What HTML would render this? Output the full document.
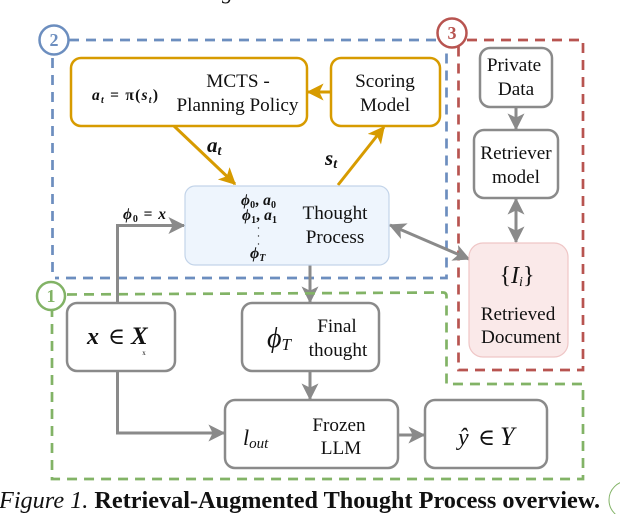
<!DOCTYPE html>
<html>
<head>
<meta charset="utf-8">
<style>
html,body{margin:0;padding:0;background:#fff;width:620px;height:514px;overflow:hidden}
svg{display:block}
text{font-family:"Liberation Serif","DejaVu Serif",serif;fill:#111}
.t{font-size:19.2px;text-anchor:middle}
.m{font-style:italic}
.b{font-weight:bold;font-style:italic}
</style>
</head>
<body>
<svg width="620" height="514" viewBox="0 0 620 514" xmlns="http://www.w3.org/2000/svg">
<defs>
<marker id="g" viewBox="0 0 12 12" refX="11" refY="6" markerUnits="userSpaceOnUse" markerWidth="17" markerHeight="17" orient="auto-start-reverse"><path d="M0 0 L12 6 L0 12 L3 6 Z" fill="#8a8a8a"/></marker>
<marker id="o" viewBox="0 0 12 12" refX="11" refY="6" markerUnits="userSpaceOnUse" markerWidth="17" markerHeight="17" orient="auto"><path d="M0 0 L12 6 L0 12 L3 6 Z" fill="#d79b00"/></marker>
</defs>

<!-- clipped line above -->
<text x="222" y="-1" font-size="22" font-style="italic">g</text>
<text x="0" y="-2" font-size="22" fill="#777">the action model and on thin with lines to both none at all inner</text>

<!-- dashed regions -->
<g fill="none" stroke-width="2.700" stroke-dasharray="10 7">
<path d="M69 40 H446.5 V278 H55" stroke="#6c8ebf"/>
<path d="M52.500 58 V278" stroke="#6c8ebf"/>
<path d="M467 40 H583 V370 H458.500 V46" stroke="#b85450"/>
<path d="M67 294.500 L443 292.500 Q446.500 292.500 446.500 296 V384 H583 V479 H52 V311" stroke="#82b366"/>
</g>

<!-- gray connectors behind boxes -->
<g fill="none" stroke="#8a8a8a" stroke-width="3">
<path d="M117.500 303 V225.500 H184" marker-end="url(#g)"/>
<path d="M117.500 371 V433 H224" marker-end="url(#g)"/>
<path d="M310 265 V302" marker-end="url(#g)"/>
<path d="M310 371 V399" marker-end="url(#g)"/>
<path d="M398 435 H424" marker-end="url(#g)"/>
<path d="M516 107 V129" marker-end="url(#g)"/>
<path d="M516 199 V242" marker-start="url(#g)" marker-end="url(#g)"/>
<path d="M390 225 L469 259" marker-start="url(#g)" marker-end="url(#g)"/>
</g>
<path d="M305 293.300 H315" stroke="#82b366" stroke-width="2.700"/>

<!-- orange connectors -->
<g fill="none" stroke="#d79b00" stroke-width="3">
<path d="M331 92 H308" marker-end="url(#o)"/>
<path d="M174 126 L235 184" marker-end="url(#o)"/>
<path d="M338 185 L384 127" marker-end="url(#o)"/>
</g>

<!-- boxes -->
<g fill="#fff" stroke="#d79b00" stroke-width="2.500">
<rect x="71" y="58" width="236" height="68" rx="10"/>
<rect x="331" y="58" width="109" height="68" rx="10"/>
</g>
<g fill="#fff" stroke="#8a8a8a" stroke-width="2.500">
<rect x="480" y="48" width="72" height="59" rx="10"/>
<rect x="474" y="130" width="84" height="68" rx="10"/>
<rect x="67" y="303" width="108" height="68" rx="10"/>
<rect x="242" y="303" width="137" height="68" rx="10"/>
<rect x="225" y="400" width="173" height="68" rx="10"/>
<rect x="425" y="400" width="122" height="68" rx="10"/>
</g>
<rect x="185" y="186" width="204" height="79" rx="10" fill="#eef5fd" stroke="#c3d4e9" stroke-width="1.200"/>
<rect x="469" y="243" width="99" height="114" rx="14" fill="#fae9e9" stroke="#efc6c6" stroke-width="1.200"/>

<!-- circles -->
<g fill="#fff" stroke-width="2.500">
<circle cx="54" cy="40" r="14.500" stroke="#6c8ebf"/>
<circle cx="452" cy="33" r="14.500" stroke="#b85450"/>
<circle cx="51" cy="296" r="14" stroke="#82b366"/>
</g>
<g font-size="18" font-weight="bold" text-anchor="middle">
<text x="54" y="46" style="fill:#6c8ebf">2</text>
<text x="452" y="39" style="fill:#b85450">3</text>
<text x="51" y="302" style="fill:#82b366">1</text>
</g>

<!-- labels -->
<text class="t" x="238" y="87">MCTS -</text>
<text class="t" x="237.500" y="111">Planning Policy</text>
<text class="m" x="92" y="100" font-size="15.500" font-weight="bold" textLength="66">a<tspan font-size="10" dy="3">t</tspan><tspan dy="-3" font-style="normal"> = π(</tspan>s<tspan font-size="10" dy="3">t</tspan><tspan dy="-3" font-style="normal">)</tspan></text>
<text class="t" x="385" y="87">Scoring</text>
<text class="t" x="385" y="111">Model</text>
<text class="b" x="207" y="152" font-size="21">a<tspan font-size="14" dy="3">t</tspan></text>
<text class="b" x="325" y="165" font-size="21">s<tspan font-size="14" dy="3">t</tspan></text>

<text class="m" x="123" y="219" font-size="15.500" font-weight="bold" textLength="43">ϕ<tspan font-size="10" dy="3" font-style="normal">0</tspan><tspan dy="-3" font-style="normal"> = </tspan>x</text>

<text class="m" x="241" y="205" font-size="15.500" font-weight="bold" textLength="35">ϕ<tspan font-size="10" dy="3" font-style="normal">0</tspan><tspan dy="-3" font-style="normal">, </tspan>a<tspan font-size="10" dy="3" font-style="normal">0</tspan></text>
<text class="m" x="242" y="220" font-size="15.500" font-weight="bold" textLength="35">ϕ<tspan font-size="10" dy="3" font-style="normal">1</tspan><tspan dy="-3" font-style="normal">, </tspan>a<tspan font-size="10" dy="3" font-style="normal">1</tspan></text>
<circle cx="258.500" cy="228" r=".7" fill="#333"/><circle cx="258.500" cy="236" r=".7" fill="#333"/><circle cx="258.500" cy="244" r=".7" fill="#333"/>
<text class="m" x="250" y="258" font-size="16" font-weight="bold">ϕ<tspan font-size="10" dy="3">T</tspan></text>
<text class="t" x="335" y="219">Thought</text>
<text class="t" x="335" y="243">Process</text>

<text class="t" x="514" y="71">Private</text>
<text class="t" x="516" y="95">Data</text>
<text class="t" x="516" y="159">Retriever</text>
<text class="t" x="516" y="183">model</text>
<text x="517" y="283" font-size="24" text-anchor="middle">{<tspan font-style="italic">I</tspan><tspan font-style="italic" font-size="14" dy="3">i</tspan><tspan dy="-3">}</tspan></text>
<text class="t" x="518" y="320">Retrieved</text>
<text class="t" x="521" y="343">Document</text>

<text x="87" y="344" font-size="24" font-weight="bold" font-style="italic">x</text>
<text x="108" y="344" font-size="23">∈</text>
<text x="131" y="344" font-size="25" font-weight="bold" font-style="italic">X</text>
<text x="144" y="355" font-size="7" text-anchor="middle">x</text>

<text class="m" x="267" y="347" font-size="28">ϕ<tspan font-size="17" dy="3">T</tspan></text>
<text class="t" x="337" y="332">Final</text>
<text class="t" x="338" y="356">thought</text>

<text class="m" x="243" y="445" font-size="22">l<tspan font-size="15" dy="3">out</tspan></text>
<text class="t" x="339" y="431">Frozen</text>
<text class="t" x="341" y="454">LLM</text>

<text x="458" y="445" font-size="24" font-style="italic">ŷ</text>
<text x="478" y="445" font-size="23">∈</text>
<text x="500" y="445" font-size="26" font-style="italic">Y</text>

<!-- caption -->
<text x="-1" y="508" font-size="24.250"><tspan font-style="italic">Figure 1.</tspan> <tspan font-weight="bold">Retrieval-Augmented Thought Process overview.</tspan></text>
<circle cx="628" cy="500" r="19" fill="#fff" stroke="#82b366" stroke-width="1"/>
</svg>
</body>
</html>
